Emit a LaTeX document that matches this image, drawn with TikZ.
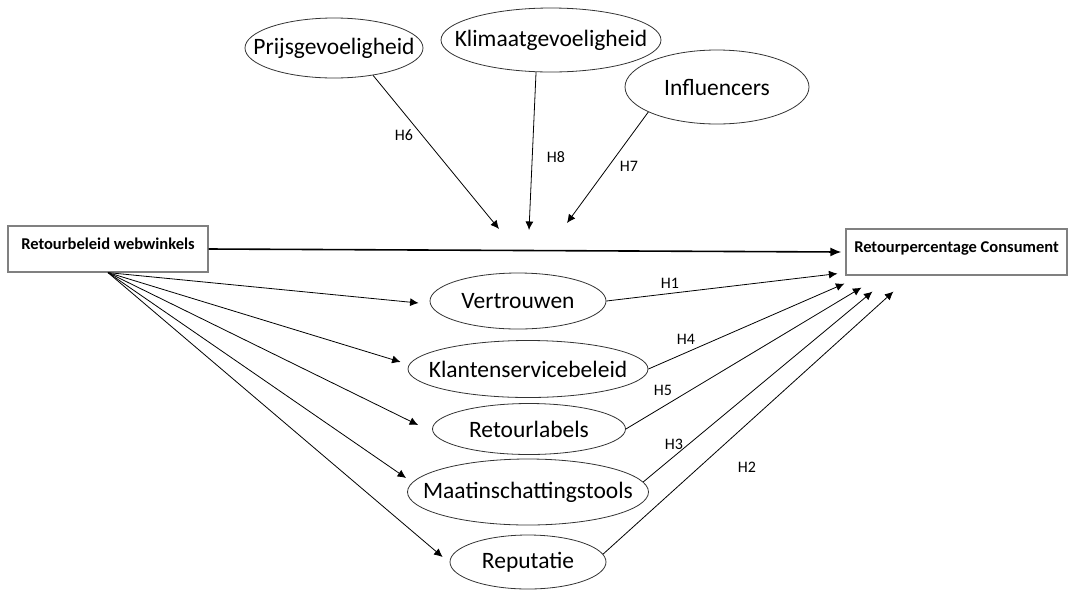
\documentclass[tikz,border=0pt]{standalone}
\usepackage{fontspec}
\setmainfont{Carlito}
\usetikzlibrary{shapes.geometric,arrows.meta,calc}
\newcommand{\elltext}[1]{\makebox[0pt]{#1}}
\begin{document}
\begin{tikzpicture}[x=1pt,y=-1pt,
	var/.style={ellipse,draw=black!80,line width=0.8pt,inner sep=0,font=\fontsize{23.5}{28}\selectfont},
	box/.style={rectangle,draw=black!50,line width=1.2pt,minimum width=200,minimum height=46,
		inner xsep=0,text height=12pt,text depth=12pt,font=\fontsize{16.5}{20}\selectfont\bfseries},
	arr/.style={-{Latex[length=8.5pt,width=8pt]},line width=0.8pt},
	hyp/.style={font=\fontsize{16}{19}\selectfont,inner sep=0}]
\useasboundingbox (0,0) rectangle (1070,590);
% boxes
\node[box] (beleid) at (108,249) {Retourbeleid webwinkels};
\node[box,minimum width=221] (perc) at (956.5,252) {Retourpercentage Consument};
% moderators
\node[var,minimum width=178,minimum height=60] (prijs) at (334,48) {\elltext{Prijsgevoeligheid}};
\node[var,minimum width=220,minimum height=64] (klimaat) at (551,40) {\elltext{Klimaatgevoeligheid}};
\node[var,minimum width=184,minimum height=74] (infl) at (717,87) {\elltext{Influencers}};
% mediators
\node[var,minimum width=176,minimum height=56] (vertr) at (518,301) {\elltext{Vertrouwen}};
\node[var,minimum width=240,minimum height=57] (klant) at (528,369) {\elltext{Klantenservicebeleid}};
\node[var,minimum width=193,minimum height=51] (retl) at (529,429) {\elltext{Retourlabels}};
\node[var,minimum width=241,minimum height=66] (maat) at (528,492) {\elltext{Maatinschattingstools}};
\node[var,minimum width=156,minimum height=54] (rep) at (528,562) {\elltext{Reputatie}};
% main effect
\draw[arr,line width=1.6pt,-{Latex[length=11pt,width=9pt]}] (beleid.east) -- ($(perc.west)+(-4,0)$);
% moderation
\coordinate (m6) at (499,229);
\coordinate (m8) at (529,230);
\coordinate (m7) at (567,223);
\draw[arr] (prijs.-35) -- (m6);
\draw[arr] (klimaat.-115) -- (m8);
\draw[arr] (infl.-160) -- (m7);
% mediation
\foreach \n/\dx/\dy in {vertr/-11/2,klant/-7/-7,retl/-14/-4,maat/-1/-14,rep/-7/-5}
	\draw[arr] (beleid.south) -- ($(\n.west)+(\dx,\dy)$);
\draw[arr] (vertr.east) -- ($(perc.south west)+(-8,-2)$);
\draw[arr] (klant.east) -- ($(perc.south west)+(-1,8)$);
\draw[arr] (retl.east) -- ($(perc.south west)+(16,12)$);
\draw[arr] (maat.5) -- ($(perc.south west)+(27,16)$);
\draw[arr] (rep.6) -- ($(perc.south west)+(48,16)$);
% hypotheses
\foreach \h/\x/\y in {6/404/135,8/556/157,7/629/166,1/670/283,4/686/339,5/663/390,3/674/444,2/747/467}
	\node[hyp] (h\h) at (\x,\y) {H\h};
\end{tikzpicture}
\end{document}
